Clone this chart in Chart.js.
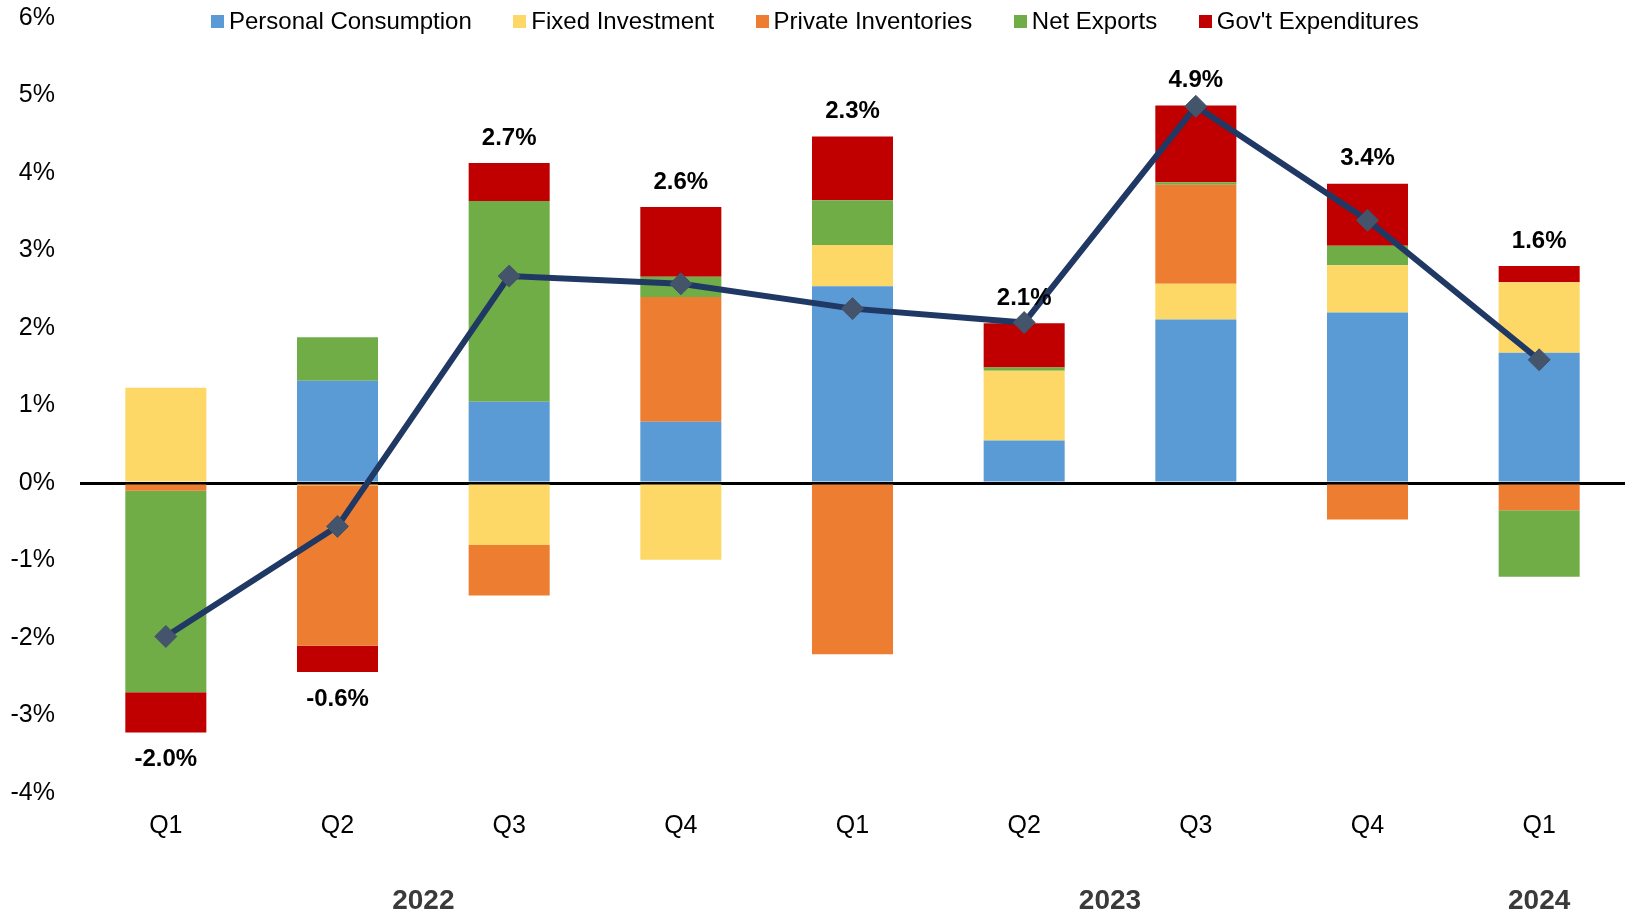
<!DOCTYPE html>
<html>
<head>
<meta charset="utf-8">
<title>GDP contributions</title>
<script src="https://cdn.jsdelivr.net/npm/chart.js@4.4.1/dist/chart.umd.min.js"></script>
<style>
  body { margin: 0; background: #fff; }
  #wrap { position: relative; width: 1627px; height: 917px; }
  #legend {
    position: absolute; left: 211px; top: 8px;
    display: flex; gap: 41.5px;
    font-family: 'Liberation Sans', Arial, sans-serif; font-size: 24px; line-height: 26px; color: #000;
  }
  #legend .item { display: flex; align-items: center; white-space: nowrap; }
  #legend .box { width: 13px; height: 13px; margin-right: 5px; }
</style>
</head>
<body>
<div id="wrap">
  <canvas id="myChart" width="1627" height="917"></canvas>
  <div id="legend"></div>
</div>
<script>
const categories = ['Q1', 'Q2', 'Q3', 'Q4', 'Q1', 'Q2', 'Q3', 'Q4', 'Q1'];
const years = ['2022', '2023', '2024'];
const yearFirst = [0, 4, 8];
const yearLast = [3, 7, 8];

// contributions to real GDP growth, percentage points
const personal = [0, 1.32, 1.05, 0.79, 2.54, 0.55, 2.11, 2.20, 1.68];
const fixed = [1.23, -0.03, -0.80, -0.99, 0.53, 0.90, 0.46, 0.61, 0.91];
const inventories = [-0.10, -2.07, -0.65, 1.61, -2.21, 0, 1.28, -0.47, -0.35];
const netExports = [-2.60, 0.56, 2.59, 0.26, 0.58, 0.04, 0.03, 0.25, -0.86];
const govt = [-0.52, -0.34, 0.49, 0.90, 0.82, 0.57, 0.99, 0.80, 0.21];
const gdp = [-1.98, -0.56, 2.67, 2.57, 2.25, 2.07, 4.86, 3.39, 1.59];

const fontFamily = "'Liberation Sans', Arial, sans-serif";
Chart.defaults.font.family = fontFamily;

const stacks = [personal, fixed, inventories, netExports, govt];

function barSet(label, data, color) {
  return {
    type: 'bar',
    label: label,
    data: data,
    backgroundColor: color,
    borderWidth: 0,
    order: 1,
    categoryPercentage: 1,
    barPercentage: 0.472
  };
}

const labelsPlugin = {
  id: 'labels',
  afterDatasetsDraw(chart) {
    const ctx = chart.ctx;
    const x = chart.scales.x;
    const y = chart.scales.y;
    ctx.save();
    ctx.textAlign = 'center';
    ctx.textBaseline = 'middle';
    ctx.fillStyle = '#000';
    ctx.font = 'bold 24px ' + fontFamily;
    gdp.forEach((v, i) => {
      let up = 0, down = 0;
      stacks.forEach(s => { if (s[i] > 0) up += s[i]; else down += s[i]; });
      const py = v >= 0 ? y.getPixelForValue(up) - 25 : y.getPixelForValue(down) + 27;
      ctx.fillText(v.toFixed(1) + '%', x.getPixelForValue(i), py);
    });
    // year labels under the quarters
    ctx.fillStyle = '#3a3a3a';
    ctx.font = 'bold 28px ' + fontFamily;
    years.forEach((yr, k) => {
      const px = (x.getPixelForValue(yearFirst[k]) + x.getPixelForValue(yearLast[k])) / 2;
      ctx.fillText(yr, px, chart.height - 16);
    });
    ctx.restore();
  }
};

const chart = new Chart(document.getElementById('myChart').getContext('2d'), {
  data: {
    labels: categories,
    datasets: [
      barSet('Personal Consumption', personal, '#5B9BD5'),
      barSet('Fixed Investment', fixed, '#FDD866'),
      barSet('Private Inventories', inventories, '#ED7D31'),
      barSet('Net Exports', netExports, '#70AD47'),
      barSet("Gov't Expenditures", govt, '#C00000'),
      {
        type: 'line',
        label: 'Real GDP',
        data: gdp,
        stack: 'gdp',
        order: 0,
        borderColor: '#203864',
        borderWidth: 6,
        pointStyle: 'rectRot',
        pointRadius: 11,
        pointBackgroundColor: '#44546A',
        pointBorderColor: '#44546A',
        pointBorderWidth: 1,
        tension: 0,
        clip: false
      }
    ]
  },
  options: {
    responsive: false,
    animation: false,
    devicePixelRatio: 1,
    layout: { autoPadding: false, padding: { top: 0, right: 2, bottom: 76, left: 0 } },
    plugins: {
      legend: { display: false },
      tooltip: { enabled: false }
    },
    scales: {
      x: {
        stacked: true,
        offset: true,
        grid: { display: false, drawTicks: false },
        border: { display: false },
        ticks: { color: '#000', font: { size: 25 }, padding: 18 },
        afterFit: (scale) => { scale.height = 48; }
      },
      y: {
        stacked: true,
        min: -4,
        max: 6,
        grid: {
          drawTicks: false,
          color: (c) => c.tick && c.tick.value === 0 ? '#000' : 'rgba(0,0,0,0)',
          lineWidth: (c) => c.tick && c.tick.value === 0 ? 3 : 0
        },
        border: { display: false },
        ticks: {
          stepSize: 1,
          color: '#000',
          font: { size: 25 },
          padding: 25,
          callback: (v) => v + '%'
        },
        afterFit: (scale) => {
          scale.width = 80;
          scale.paddingTop = 18;
          scale.paddingBottom = 0;
        }
      }
    }
  },
  plugins: [labelsPlugin]
});

// legend built from the bar datasets
const legendEl = document.getElementById('legend');
chart.data.datasets.filter(d => d.type === 'bar').forEach(d => {
  const item = document.createElement('div');
  item.className = 'item';
  item.innerHTML = '<span class="box" style="background:' + d.backgroundColor + '"></span><span>' + d.label + '</span>';
  legendEl.appendChild(item);
});
</script>
</body>
</html>
